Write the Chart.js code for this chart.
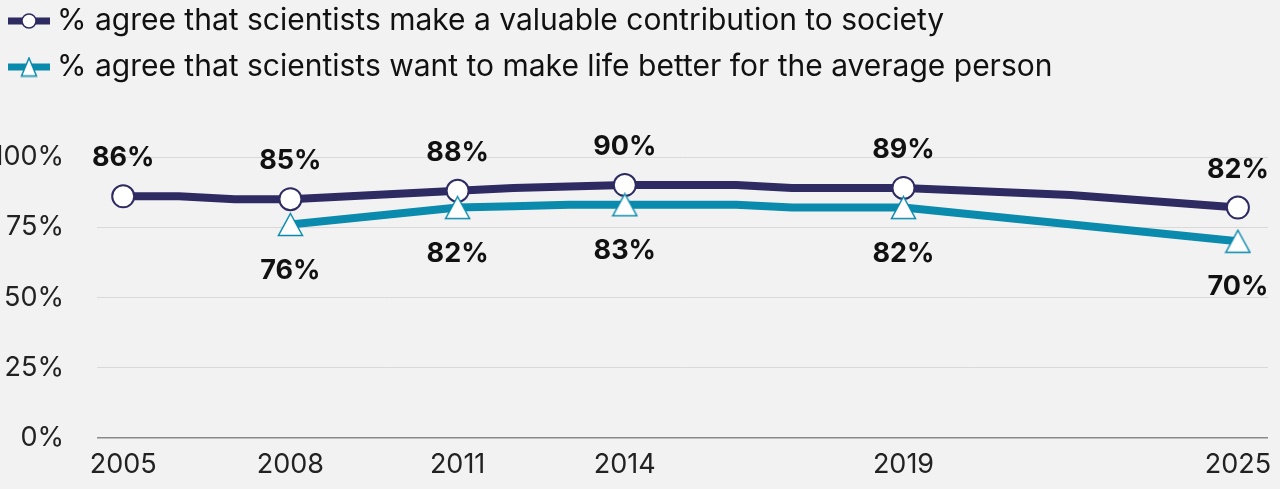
<!DOCTYPE html>
<html lang="en">
<head>
  <meta charset="UTF-8" />
  <title>Attitudes to scientists, 2005–2025</title>
  <script src="https://cdn.jsdelivr.net/npm/chart.js"></script>
  <style>
    html, body { margin: 0; overflow: hidden; background: #f2f2f2; font-family: 'Inter', sans-serif; }
    .wrap { position: relative; width: 1280px; height: 489px; }
  </style>
</head>
<body>
  <div class="wrap"><canvas id="scientistsChart"></canvas></div>

  <script>
    // years that get a tick, a marker and a value label
    const tickYears = [2005, 2008, 2011, 2014, 2019, 2025];
    const yTicks = [0, 25, 50, 75, 100];

    const valuableLabel = '% agree that scientists make a valuable contribution to society';
    const valuableYears = [2005, 2006, 2007, 2008, 2011, 2012, 2013, 2014, 2016, 2017, 2019, 2022, 2025];
    const valuableValues = [86, 86, 85, 85, 88, 89, 89.5, 90, 90, 89, 89, 86.5, 82];

    const betterLabel = '% agree that scientists want to make life better for the average person';
    const betterYears = [2008, 2011, 2012, 2013, 2014, 2016, 2017, 2019, 2025];
    const betterValues = [76, 82, 82.5, 83, 83, 83, 82, 82, 70];

    const NAVY = '#2d2b62';
    const TEAL = '#0a8aac';
    const FONT = 'Inter, sans-serif';

    // open triangle, centred on its bounding box
    function makeTriangle(w, h, lw) {
      const c = document.createElement('canvas');
      c.width = Math.ceil(w + lw * 2);
      c.height = Math.ceil(h + lw * 2);
      const g = c.getContext('2d');
      g.beginPath();
      g.moveTo(c.width / 2, lw);
      g.lineTo(w + lw, h + lw);
      g.lineTo(lw, h + lw);
      g.closePath();
      g.fillStyle = '#ffffff';
      g.fill();
      g.lineWidth = lw;
      g.strokeStyle = TEAL;
      g.stroke();
      return c;
    }
    const triangleMarker = makeTriangle(24, 22, 1.5);
    const triangleLegend = makeTriangle(15, 18, 1.5);

    const toPoints = (xs, ys) => xs.map((x, i) => ({ x, y: ys[i] }));
    const markerRadius = r => ctx => tickYears.includes(ctx.raw.x) ? r : 0;

    // value labels above (navy) / below (teal) the marked years
    const valueLabels = {
      id: 'valueLabels',
      afterDatasetsDraw(chart) {
        const ctx = chart.ctx;
        ctx.save();
        ctx.font = `bold 27px ${FONT}`;
        ctx.fillStyle = '#111111';
        ctx.textAlign = 'center';
        ctx.textBaseline = 'middle';
        chart.data.datasets.forEach((ds, di) => {
          const meta = chart.getDatasetMeta(di);
          meta.data.forEach((pt, i) => {
            const raw = ds.data[i];
            if (!tickYears.includes(raw.x)) return;
            ctx.fillText(raw.y + '%', pt.x, pt.y + ds.labelOffset);
          });
        });
        ctx.restore();
      }
    };

    // two-row legend: thick line with the series marker, then the text
    const lineLegend = {
      id: 'lineLegend',
      afterDraw(chart) {
        const ctx = chart.ctx;
        const rows = [21, 67];
        ctx.save();
        chart.data.datasets.forEach((ds, di) => {
          const y = rows[di];
          ctx.strokeStyle = ds.borderColor;
          ctx.lineWidth = 7;
          ctx.beginPath();
          ctx.moveTo(8, y);
          ctx.lineTo(50, y);
          ctx.stroke();
          if (ds.legendMarker === 'circle') {
            ctx.beginPath();
            ctx.arc(29, y, 7, 0, Math.PI * 2);
            ctx.fillStyle = '#ffffff';
            ctx.fill();
            ctx.lineWidth = 1.5;
            ctx.strokeStyle = NAVY;
            ctx.stroke();
          } else {
            ctx.drawImage(triangleLegend, 29 - triangleLegend.width / 2, y - triangleLegend.height / 2);
          }
          ctx.font = `30px ${FONT}`;
          ctx.fillStyle = '#111111';
          ctx.textAlign = 'left';
          ctx.textBaseline = 'middle';
          ctx.fillText(ds.label, 57, y);
        });
        ctx.restore();
      }
    };

    new Chart(document.getElementById('scientistsChart'), {
      type: 'line',
      data: {
        datasets: [
          {
            label: valuableLabel,
            data: toPoints(valuableYears, valuableValues),
            borderColor: NAVY,
            borderWidth: 8,
            tension: 0,
            pointStyle: 'circle',
            pointRadius: markerRadius(11),
            pointBackgroundColor: '#ffffff',
            pointBorderColor: NAVY,
            pointBorderWidth: 2,
            labelOffset: -38,
            legendMarker: 'circle',
            order: 2
          },
          {
            label: betterLabel,
            data: toPoints(betterYears, betterValues),
            borderColor: TEAL,
            borderWidth: 8,
            tension: 0,
            pointStyle: triangleMarker,
            pointRadius: markerRadius(12),
            labelOffset: 46,
            legendMarker: 'triangle',
            order: 1
          }
        ]
      },
      options: {
        responsive: true,
        maintainAspectRatio: false,
        animation: false,
        layout: { autoPadding: false, padding: { top: 157, right: 12, left: 0, bottom: 0 } },
        plugins: {
          legend: { display: false },
          tooltip: { enabled: false }
        },
        scales: {
          x: {
            type: 'linear',
            min: 2004.53,
            max: 2025.54,
            // no gridlines, but the tick length still spaces the labels off the axis
            grid: { display: false, drawTicks: true, tickLength: 11 },
            border: { display: false },
            afterBuildTicks: scale => { scale.ticks = tickYears.map(v => ({ value: v })); },
            afterFit: scale => {
              scale.height = 51;
              scale.paddingLeft = 0;
              scale.paddingRight = 0;
            },
            ticks: {
              autoSkip: false,
              maxRotation: 0,
              padding: 0,
              color: '#222222',
              font: { family: FONT, size: 27 },
              callback: v => String(v)
            }
          },
          y: {
            min: 0,
            max: 100,
            border: { display: false },
            afterBuildTicks: scale => { scale.ticks = yTicks.map(v => ({ value: v })); },
            afterFit: scale => { scale.width = 97; },
            grid: {
              drawTicks: false,
              color: c => c.tick.value === 0 ? '#8a8a8a' : '#d9d9d9',
              lineWidth: c => c.tick.value === 0 ? 1.5 : 1
            },
            ticks: {
              padding: 33,
              color: '#222222',
              font: { family: FONT, size: 27 },
              callback: v => v + '%'
            }
          }
        }
      },
      plugins: [valueLabels, lineLegend]
    });
  </script>
</body>
</html>
